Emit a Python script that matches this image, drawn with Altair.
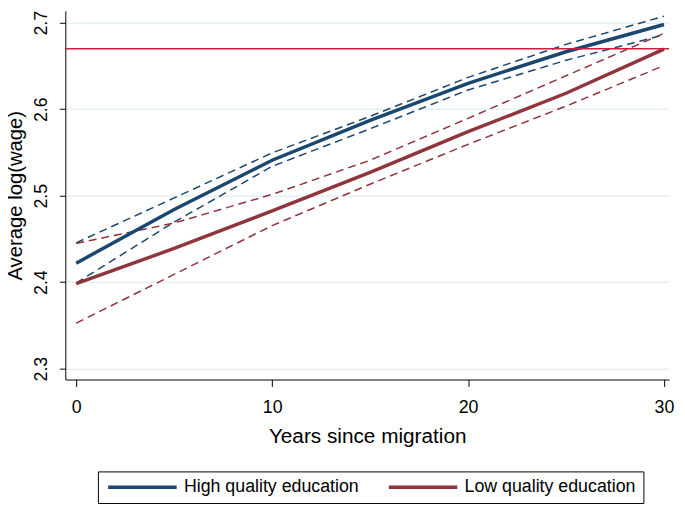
import altair as alt
import pandas as pd

years = [0, 5, 10, 15, 20, 25, 30]
high = [2.422, 2.484, 2.541, 2.587, 2.630, 2.6665, 2.698]
high_hi = [2.4455, 2.4974, 2.5495, 2.5918, 2.6368, 2.675, 2.7076]
high_lo = [2.399, 2.4695, 2.534, 2.5774, 2.6223, 2.6566, 2.686]
low = [2.3983, 2.439, 2.4825, 2.527, 2.574, 2.6185, 2.6695]
low_hi = [2.4448, 2.4684, 2.5015, 2.541, 2.5895, 2.6387, 2.6878]
low_lo = [2.3526, 2.409, 2.4654, 2.5133, 2.5594, 2.6036, 2.6505]
ref_value = 2.67

groups = ["High quality education", "Low quality education"]
colors = ["#1a476f", "#90353b"]

rows = []
for g, est, hi, lo in [(groups[0], high, high_hi, high_lo), (groups[1], low, low_hi, low_lo)]:
    for i, yr in enumerate(years):
        rows.append({"year": yr, "group": g, "band": "est", "value": est[i]})
        rows.append({"year": yr, "group": g, "band": "hi", "value": hi[i]})
        rows.append({"year": yr, "group": g, "band": "lo", "value": lo[i]})
df = pd.DataFrame(rows)

FONT = "Liberation Sans"

xscale = alt.Scale(domain=[-0.555, 30.26], nice=False, zero=False)
yscale = alt.Scale(domain=[2.2874, 2.7137], nice=False, zero=False)
cscale = alt.Scale(domain=groups, range=colors)

xenc = alt.X("year:Q", scale=xscale,
             axis=alt.Axis(values=[0, 10, 20, 30], title="Years since migration",
                           grid=False, tickSize=7, labelFontSize=18, titleFontSize=21,
                           labelPadding=12, titlePadding=10, format="d"))
yenc = alt.Y("value:Q", scale=yscale,
             axis=alt.Axis(values=[2.3, 2.4, 2.5, 2.6, 2.7], title="Average log(wage)",
                           grid=True, gridColor="#e6eff1", gridWidth=1.5,
                           tickSize=6, labelFontSize=18, titleFontSize=20.5,
                           labelAngle=-90, labelAlign="center", labelBaseline="bottom",
                           labelPadding=9, titlePadding=7, format=".1f"))

solid = alt.Chart(df).transform_filter(alt.datum.band == "est").mark_line(
    strokeWidth=3.5).encode(
    x=xenc, y=yenc,
    color=alt.Color("group:N", scale=cscale, title=None,
                    legend=alt.Legend(orient="none", legendX=33, legendY=466,
                                      direction="horizontal", strokeColor="black",
                                      padding=7, symbolType="M-6.3,0H6.3", symbolSize=121,
                                      symbolOffset=29,
                                      symbolStrokeWidth=3.5, labelFontSize=18,
                                      labelLimit=400,
                                      labelOffset=33, columnPadding=22, labelFont=FONT,
                                      labelColor="black")),
)

dashed = alt.Chart(df).transform_filter(alt.datum.band != "est").mark_line(
    strokeWidth=1.5, strokeDash=[8, 5]).encode(
    x=xenc, y=yenc,
    color=alt.Color("group:N", scale=cscale, legend=None),
    detail="band:N",
)

ref_df = pd.DataFrame({"value": [ref_value]})
rule = alt.Chart(ref_df).mark_rule(color="#d01c3c", strokeWidth=1.5).encode(
    y=alt.Y("value:Q", scale=yscale))

chart = alt.layer(dashed, solid, rule).resolve_legend(color="independent").properties(
    width=611, height=373,
    autosize=alt.AutoSizeParams(type="none"),
    padding={"left": 58, "top": 0, "right": 8, "bottom": 123},
).configure_view(stroke=None).configure_axis(
    labelFont=FONT, titleFont=FONT, labelColor="black", titleColor="black",
    domainColor="black", tickColor="black", titleFontWeight="normal",
    domainWidth=1, tickWidth=1,
)

chart.save("out.html", embed_options={"renderer": "svg", "actions": False})
